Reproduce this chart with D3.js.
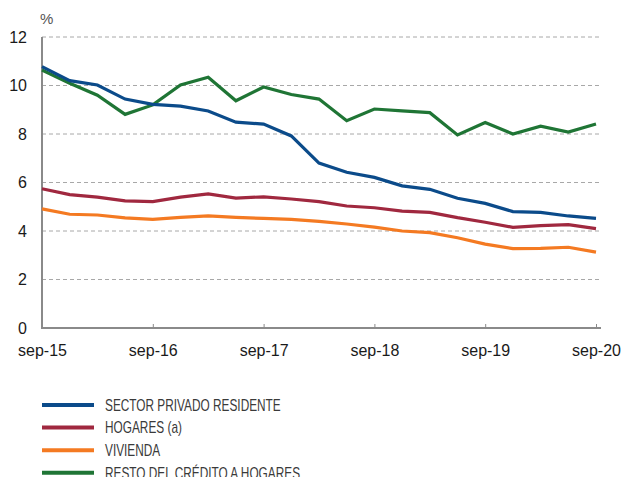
<!DOCTYPE html>
<html>
<head>
<meta charset="utf-8">
<script src="https://cdn.jsdelivr.net/npm/d3@7"></script>
<style>
  body { margin: 0; background: #fff; }
  svg { display: block; }
  .tick text { font-family: "Liberation Sans", Arial, sans-serif; }
</style>
</head>
<body>
<svg width="621" height="477"></svg>
<script>
var svg = d3.select("svg");

// quarterly, sep-15 .. sep-20
var quarters = d3.range(21);
var tickLabels = ["sep-15", "sep-16", "sep-17", "sep-18", "sep-19", "sep-20"];

var sectorPrivado = [10.78, 10.2, 10.02, 9.44, 9.22, 9.15, 8.95, 8.49, 8.41, 7.92, 6.8,
                     6.42, 6.21, 5.86, 5.72, 5.35, 5.14, 4.8, 4.77, 4.62, 4.52];
var hogares = [5.74, 5.5, 5.4, 5.24, 5.21, 5.4, 5.53, 5.36, 5.41, 5.32, 5.21,
               5.03, 4.96, 4.82, 4.77, 4.55, 4.36, 4.15, 4.22, 4.26, 4.1];
var vivienda = [4.91, 4.69, 4.66, 4.54, 4.48, 4.56, 4.62, 4.56, 4.52, 4.48, 4.4,
                4.29, 4.16, 4.0, 3.93, 3.72, 3.46, 3.27, 3.28, 3.33, 3.13];
var restoCredito = [10.64, 10.09, 9.6, 8.81, 9.2, 10.02, 10.34, 9.37, 9.94, 9.63, 9.44,
                    8.55, 9.03, 8.95, 8.88, 7.96, 8.47, 8.0, 8.32, 8.08, 8.41];

var seriesNames = ["SECTOR PRIVADO RESIDENTE", "HOGARES (a)", "VIVIENDA", "RESTO DEL CRÉDITO A HOGARES"];
var seriesColors = ["#0b4b8a", "#a0283f", "#f47a22", "#1f7535"];
var seriesValues = [sectorPrivado, hogares, vivienda, restoCredito];

var x = d3.scaleLinear().domain([0, 20]).range([42, 596]);
var xAxisEnd = 601;
var y = d3.scaleLinear().domain([0, 12]).range([328, 37]);

// gridlines
svg.append("g")
    .selectAll("line")
    .data([2, 4, 6, 8, 10, 12])
    .enter().append("line")
    .attr("x1", 42)
    .attr("x2", xAxisEnd)
    .attr("y1", function(d) { return y(d); })
    .attr("y2", function(d) { return y(d); })
    .attr("stroke", "#a8a8a8")
    .attr("stroke-width", 1)
    .attr("stroke-dasharray", "4,3");

// y axis labels
var yAxis = svg.append("g")
    .attr("transform", "translate(42,0)")
    .call(d3.axisLeft(y).tickValues([0, 2, 4, 6, 8, 10, 12]).tickSize(0).tickPadding(15));
yAxis.select(".domain").remove();
yAxis.selectAll("text")
    .attr("font-size", "16px")
    .attr("fill", "#1a1a1a");

svg.append("text")
    .attr("x", 40)
    .attr("y", 24)
    .attr("font-family", "Liberation Sans, Arial, sans-serif")
    .attr("font-size", "15px")
    .attr("fill", "#555")
    .text("%");

// x axis
var xAxis = svg.append("g")
    .attr("transform", "translate(0,328)")
    .call(d3.axisTop(x).tickValues([0, 4, 8, 12, 16, 20]).tickSize(4)
        .tickFormat(function(d, i) { return tickLabels[i]; }));
xAxis.select(".domain").remove();
xAxis.selectAll(".tick line")
    .attr("stroke", "#8a8a8a")
    .attr("stroke-width", 1);
xAxis.selectAll(".tick text")
    .attr("y", 22)
    .attr("dy", "0.35em")
    .attr("font-size", "16px")
    .attr("fill", "#1a1a1a");

// axis lines
svg.append("line")
    .attr("x1", 42).attr("x2", 42)
    .attr("y1", 37).attr("y2", 328)
    .attr("stroke", "#8a8a8a").attr("stroke-width", 2);
svg.append("line")
    .attr("x1", 41).attr("x2", xAxisEnd)
    .attr("y1", 328).attr("y2", 328)
    .attr("stroke", "#8a8a8a").attr("stroke-width", 2);

// lines
var line = d3.line()
    .x(function(d, i) { return x(quarters[i]); })
    .y(function(d) { return y(d); });

var drawOrder = [3, 2, 1, 0];
drawOrder.forEach(function(s) {
    svg.append("path")
        .datum(seriesValues[s])
        .attr("d", line)
        .attr("fill", "none")
        .attr("stroke", seriesColors[s])
        .attr("stroke-width", 3.2)
        .attr("stroke-linejoin", "miter");
});

// legend (condensed text, like the original narrow face)
var legend = svg.append("g").attr("class", "legend");
seriesNames.forEach(function(name, i) {
    var ly = 405 + i * 22.6;
    legend.append("line")
        .attr("x1", 42).attr("x2", 94)
        .attr("y1", ly).attr("y2", ly)
        .attr("stroke", seriesColors[i])
        .attr("stroke-width", 4);
    legend.append("text")
        .attr("transform", "translate(105," + ly + ") scale(0.74,1)")
        .attr("dy", "0.36em")
        .attr("font-family", "Liberation Sans, Arial, sans-serif")
        .attr("font-size", "16px")
        .attr("fill", "#3a3a3a")
        .text(name);
});
</script>
</body>
</html>
